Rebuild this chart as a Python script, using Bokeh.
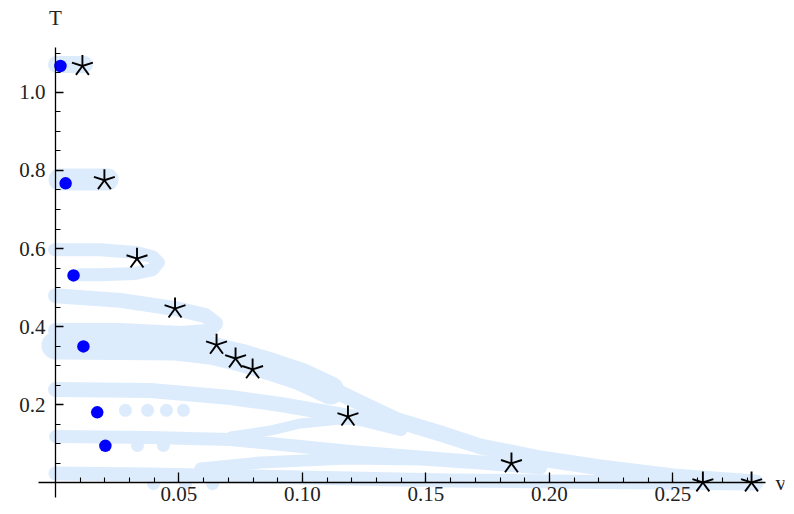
import numpy as np
from bokeh.plotting import figure
from bokeh.models import (LinearAxis, FixedTicker, Range1d, Label,
                          ColumnDataSource, PrintfTickFormatter)
from bokeh.embed import file_html
from bokeh.resources import INLINE

# ---------------- data ----------------
blue_v = [0.0020, 0.0041, 0.0073, 0.0113, 0.0169, 0.0202]
blue_T = [1.068, 0.767, 0.531, 0.349, 0.180, 0.094]

star_v = [0.0109, 0.0198, 0.0330, 0.0484, 0.0652, 0.0729, 0.0798,
          0.1184, 0.1846, 0.2621, 0.2818]
star_T = [1.068, 0.775, 0.574, 0.446, 0.353, 0.318, 0.290,
          0.169, 0.049, 0.0, 0.0]

# light-blue point cloud, traced as thick bands
band_a_v = [0.0004, 0.0117]
band_a_T = [1.072, 1.072]
band_b_v = [0.0016, 0.0211]
band_b_T = [0.777, 0.777]
band_c_v = [-0.0004, 0.0182, 0.0324, 0.0393, 0.0417, 0.0393, 0.0324, 0.0182, 0.0101]
band_c_T = [0.597, 0.597, 0.590, 0.579, 0.564, 0.546, 0.536, 0.533, 0.533]
band_d_v = [0.0, 0.0263, 0.0486, 0.0607, 0.0648, 0.0619, 0.0506, 0.0263, 0.0]
band_d_T = [0.479, 0.467, 0.446, 0.428, 0.408, 0.387, 0.382, 0.390, 0.390]
band_e_v = [0.0, 0.0486, 0.0628, 0.0749, 0.0870, 0.0992, 0.1113]
band_e_T = [0.3513, 0.3487, 0.3385, 0.3205, 0.2974, 0.2718, 0.2359]
band_f_v = [0.0992, 0.1113, 0.1247, 0.1385, 0.1559, 0.1721, 0.1964, 0.2206, 0.2502, 0.2834]
band_f_T = [0.2769, 0.2410, 0.2000, 0.1590, 0.1256, 0.0923, 0.0615, 0.0385, 0.0154, 0.0]
band_g_v = [0.0, 0.0385, 0.0709, 0.0911, 0.1073, 0.1235, 0.1397]
band_g_T = [0.2385, 0.2359, 0.2179, 0.200, 0.1821, 0.1641, 0.1385]
band_h_v = [0.0, 0.0385, 0.0709, 0.0992, 0.1194, 0.1397, 0.1599, 0.1802, 0.1964]
band_h_T = [0.1179, 0.1154, 0.1103, 0.0923, 0.0795, 0.0692, 0.0590, 0.0487, 0.0385]
band_i_v = [0.0, 0.0385, 0.0789, 0.1194, 0.1599, 0.2004, 0.2409, 0.2834]
band_i_T = [0.0231, 0.0205, 0.0154, 0.0103, 0.0051, 0.0026, 0.0, -0.0026]
band_j_v = [0.0587, 0.0830, 0.1182, 0.1478, 0.1721, 0.1964]
band_j_T = [0.0359, 0.0513, 0.0615, 0.0590, 0.0487, 0.0359]
band_k_v = [0.0709, 0.0870, 0.0992, 0.1154, 0.1316, 0.1417]
band_k_T = [0.1179, 0.1333, 0.1513, 0.1615, 0.1564, 0.1410]

faint_v = [0.0283, 0.0373, 0.0449, 0.0518, 0.0332, 0.0437, 0.0397, 0.0526, 0.0636]
faint_T = [0.185, 0.185, 0.185, 0.185, 0.095, 0.095, -0.003, -0.003, -0.003]

x_major = [0.05, 0.10, 0.15, 0.20, 0.25]
y_major = [0.2, 0.4, 0.6, 0.8, 1.0]

# ---------------- figure ----------------
LIGHT = "#ddecfc"
p = figure(width=786, height=506,
           x_range=Range1d(-0.021457, 0.295142),
           y_range=Range1d(-0.056410, 1.230769),
           x_axis_type=None, y_axis_type=None,
           toolbar_location=None, output_backend="svg",
           min_border_left=2, min_border_right=2,
           min_border_top=2, min_border_bottom=2,
           outline_line_color=None)
p.grid.visible = False

bands_v = [band_a_v, band_b_v, band_c_v, band_d_v, band_e_v,
           band_f_v, band_g_v, band_h_v, band_i_v, band_j_v, band_k_v]
bands_T = [band_a_T, band_b_T, band_c_T, band_d_T, band_e_T,
           band_f_T, band_g_T, band_h_T, band_i_T, band_j_T, band_k_T]
band_w = [17, 22, 13, 15, 28, 16, 15, 13, 14, 12, 10]
src = ColumnDataSource(dict(xs=bands_v, ys=bands_T, w=band_w))
p.multi_line(xs="xs", ys="ys", line_width="w", line_color=LIGHT,
             line_cap="round", line_join="round", source=src)

p.scatter(faint_v, faint_T, size=13, fill_color=LIGHT, line_color=None)

p.scatter(blue_v, blue_T, size=12.5, fill_color="#0000ff", line_color=None)

# five-armed asterisk markers
ang = np.deg2rad(90 + 72 * np.arange(5))
rx = np.repeat(star_v, 5)
ry = np.repeat(star_T, 5)
ra = np.tile(ang, len(star_v))
p.ray(x=rx, y=ry, length=11, angle=ra, length_units="screen",
      line_color="black", line_width=1.9)

# axes through the origin
x_minor = [round(0.01 * i, 2) for i in range(1, 29)]
y_minor = [round(0.05 * i, 2) for i in range(1, 23)]

def style(ax):
    ax.axis_line_color = "black"
    ax.axis_line_width = 1.3
    ax.major_tick_line_color = "black"
    ax.minor_tick_line_color = "black"
    ax.major_tick_line_width = 1.3
    ax.minor_tick_line_width = 1.1
    ax.major_tick_out = 0
    ax.minor_tick_out = 0
    ax.minor_tick_in = 5
    ax.major_label_text_font = "Liberation Serif"
    ax.major_label_text_font_size = "21px"
    ax.major_label_text_color = "#222222"

xaxis = LinearAxis(fixed_location=0,
                   ticker=FixedTicker(ticks=x_major, minor_ticks=x_minor),
                   formatter=PrintfTickFormatter(format="%.2f"),
                   bounds=(-0.0069, 0.2874))
style(xaxis)
xaxis.major_tick_in = 10
xaxis.major_label_standoff = 4
yaxis = LinearAxis(fixed_location=0,
                   ticker=FixedTicker(ticks=y_major, minor_ticks=y_minor),
                   formatter=PrintfTickFormatter(format="%.1f"),
                   bounds=(-0.038, 1.115))
style(yaxis)
yaxis.major_tick_in = 8
yaxis.major_label_standoff = 10
p.add_layout(xaxis, "below")
p.add_layout(yaxis, "left")

p.add_layout(Label(x=0, y=1.19, text="T", text_align="center",
                   text_baseline="middle", text_font="Liberation Serif",
                   text_font_size="21px", text_color="#222222"))
p.add_layout(Label(x=0.2915, y=0.0, text="v", text_align="left",
                   text_baseline="middle", text_font="Liberation Serif",
                   text_font_size="21px", text_color="#222222"))

open("out.html", "w").write(file_html(p, INLINE))
